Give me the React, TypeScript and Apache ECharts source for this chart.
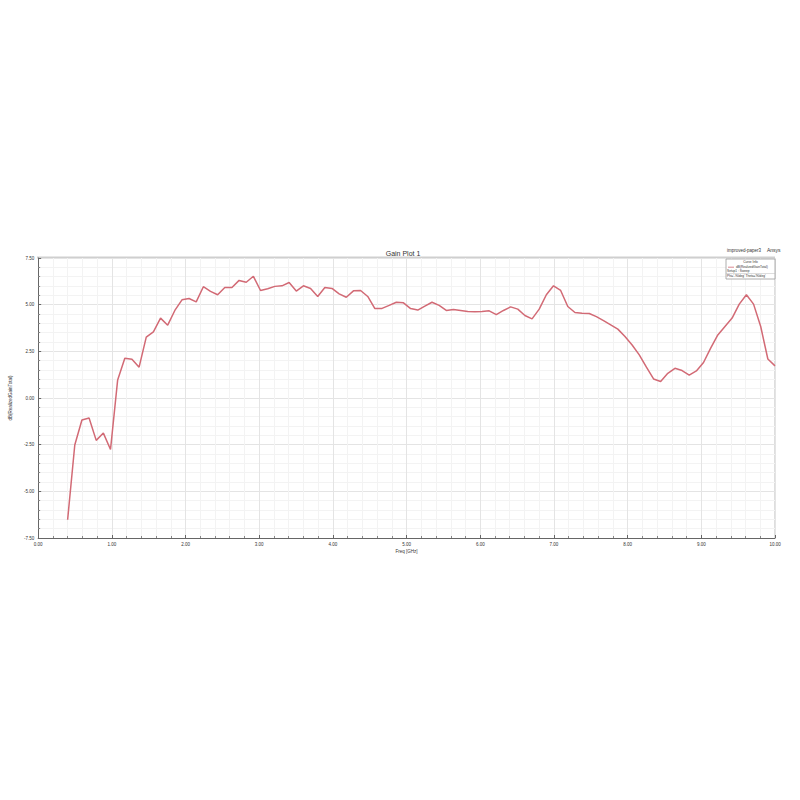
import React, { useEffect, useRef } from "react";
import * as echarts from "echarts";

const freqGHz = [
  0.4, 0.497, 0.594, 0.691, 0.788, 0.885, 0.982, 1.079, 1.176, 1.273,
  1.37, 1.467, 1.564, 1.661, 1.758, 1.855, 1.952, 2.048, 2.145, 2.242,
  2.339, 2.436, 2.533, 2.63, 2.727, 2.824, 2.921, 3.018, 3.115, 3.212,
  3.309, 3.406, 3.503, 3.6, 3.697, 3.794, 3.891, 3.988, 4.085, 4.182,
  4.279, 4.376, 4.473, 4.57, 4.667, 4.764, 4.861, 4.958, 5.055, 5.152,
  5.248, 5.345, 5.442, 5.539, 5.636, 5.733, 5.83, 5.927, 6.024, 6.121,
  6.218, 6.315, 6.412, 6.509, 6.606, 6.703, 6.8, 6.897, 6.994, 7.091,
  7.188, 7.285, 7.382, 7.479, 7.576, 7.673, 7.77, 7.867, 7.964, 8.061,
  8.158, 8.255, 8.352, 8.448, 8.545, 8.642, 8.739, 8.836, 8.933, 9.03,
  9.127, 9.224, 9.321, 9.418, 9.515, 9.612, 9.709, 9.806, 9.903, 10.0,
];

const gainDb = [
  -6.52, -2.52, -1.18, -1.07, -2.27, -1.88, -2.76, 0.97, 2.13, 2.08,
  1.65, 3.26, 3.54, 4.28, 3.9, 4.69, 5.26, 5.33, 5.15, 5.96,
  5.71, 5.53, 5.92, 5.92, 6.3, 6.2, 6.52, 5.76, 5.85, 5.98,
  6.01, 6.19, 5.73, 6.01, 5.87, 5.44, 5.92, 5.87, 5.58, 5.4,
  5.74, 5.76, 5.44, 4.79, 4.8, 4.96, 5.13, 5.1, 4.79, 4.71,
  4.92, 5.13, 4.96, 4.69, 4.74, 4.69, 4.63, 4.62, 4.63, 4.67,
  4.47, 4.69, 4.88, 4.76, 4.42, 4.24, 4.76, 5.53, 6.01, 5.76,
  4.9, 4.58, 4.54, 4.53, 4.36, 4.15, 3.92, 3.69, 3.29, 2.84,
  2.31, 1.65, 1.02, 0.88, 1.32, 1.59, 1.47, 1.23, 1.45, 1.9,
  2.67, 3.38, 3.83, 4.28, 5.03, 5.53, 5.03, 3.83, 2.09, 1.72,
];

const titleText = "Gain Plot 1";
const xAxisName = "Freq [GHz]";
const yAxisName = "dB(RealizedGainTotal)";
const projectText = "improved-paper3";
const brandText = "Ansys";
const legendLines = ["Curve Info", "dB(RealizedGainTotal)", "Setup1 : Sweep", "Phi='-90deg' Theta='90deg'"];

const FONT = "Liberation Sans, Arial, sans-serif";
const LINE_COLOR = "#d26a75";

export default function App() {
  const ref = useRef<HTMLDivElement>(null);
  useEffect(() => {
    if (!ref.current) return;
    const chart = echarts.init(ref.current, null, { renderer: "svg" });
    const gl = 37, gt = 258, gw = 738, gh = 280;
    const lx = 726, ly = 259, lw = 49, lh = 20;
    chart.setOption({
      animation: false,
      backgroundColor: "#ffffff",
      title: {
        text: titleText,
        left: 398,
        top: 245,
        textAlign: "center",
        textStyle: { fontSize: 7, fontWeight: "normal", color: "#333", fontFamily: FONT },
      },
      grid: { left: gl, top: gt, width: gw, height: gh, containLabel: false },
      xAxis: {
        type: "value",
        min: 0,
        max: 10,
        interval: 1,
        name: xAxisName,
        nameLocation: "middle",
        nameGap: 11,
        nameTextStyle: { fontSize: 4.5, color: "#333", fontFamily: FONT },
        axisLine: { show: true, onZero: false, lineStyle: { color: "#666", width: 1 } },
        axisTick: { show: true, inside: true, length: 3, lineStyle: { color: "#666" } },
        minorTick: { show: true, splitNumber: 5, length: 2, lineStyle: { color: "#888" } },
        axisLabel: {
          fontSize: 4.5,
          color: "#333",
          fontFamily: FONT,
          margin: 4,
          formatter: (v: number) => v.toFixed(2),
        },
        splitLine: { show: true, lineStyle: { color: "#e4e4e4", width: 1 } },
        minorSplitLine: { show: true, lineStyle: { color: "#f3f3f3", width: 1 } },
      },
      yAxis: {
        type: "value",
        min: -7.5,
        max: 7.5,
        interval: 2.5,
        name: yAxisName,
        nameLocation: "middle",
        nameGap: 14,
        nameRotate: 90,
        nameTextStyle: { fontSize: 4.5, color: "#333", fontFamily: FONT },
        axisLine: { show: true, onZero: false, lineStyle: { color: "#666", width: 1 } },
        axisTick: { show: true, inside: true, length: 3, lineStyle: { color: "#666" } },
        minorTick: { show: true, splitNumber: 5, length: 2, lineStyle: { color: "#888" } },
        axisLabel: {
          fontSize: 4.5,
          color: "#333",
          fontFamily: FONT,
          margin: 4,
          formatter: (v: number) => v.toFixed(2),
        },
        splitLine: { show: true, lineStyle: { color: "#e4e4e4", width: 1 } },
        minorSplitLine: { show: true, lineStyle: { color: "#f3f3f3", width: 1 } },
      },
      graphic: [
        { type: "rect", shape: { x: gl, y: gt - 1.5, width: gw, height: 2 }, style: { fill: "#cfcfcf" }, silent: true },
        { type: "line", shape: { x1: gl + gw, y1: gt, x2: gl + gw, y2: gt + gh }, style: { stroke: "#bdbdbd", lineWidth: 1 }, silent: true },
        { type: "text", left: 727, top: 248, style: { text: projectText, fontSize: 4.5, fill: "#333", fontFamily: FONT } },
        { type: "text", left: 767, top: 247.5, style: { text: brandText, fontSize: 5, fill: "#333", fontFamily: FONT } },
        { type: "rect", shape: { x: lx, y: ly, width: lw, height: lh }, style: { fill: "#ffffff", stroke: "#9a9a9a", lineWidth: 0.8 }, z: 10 },
        { type: "text", x: lx + lw / 2, y: ly + 1, style: { text: legendLines[0], fontSize: 3.2, fill: "#333", fontFamily: FONT, textAlign: "center" }, z: 11 },
        { type: "line", shape: { x1: lx + 2, y1: ly + 8.2, x2: lx + 8, y2: ly + 8.2 }, style: { stroke: LINE_COLOR, lineWidth: 0.8 }, z: 11 },
        { type: "text", x: lx + 10, y: ly + 6.4, style: { text: legendLines[1], fontSize: 3.2, fill: "#333", fontFamily: FONT }, z: 11 },
        { type: "text", x: lx + 1, y: ly + 10.6, style: { text: legendLines[2], fontSize: 3.2, fill: "#333", fontFamily: FONT }, z: 11 },
        { type: "text", x: lx + 1, y: ly + 15, style: { text: legendLines[3], fontSize: 3.2, fill: "#333", fontFamily: FONT }, z: 11 },
        { type: "line", shape: { x1: lx, y1: ly + 14.5, x2: lx + lw, y2: ly + 14.5 }, style: { stroke: "#bbbbbb", lineWidth: 0.5 }, z: 11 },
      ],
      series: [
        {
          type: "line",
          data: freqGHz.map((f, i) => [f, gainDb[i]]),
          showSymbol: false,
          symbol: "none",
          lineStyle: { color: LINE_COLOR, width: 1.5 },
          itemStyle: { color: LINE_COLOR },
        },
      ],
    });
    return () => chart.dispose();
  }, []);
  return (
    <div
      ref={ref}
      style={{ position: "fixed", left: 0, top: 0, width: 800, height: 800, background: "#fff" }}
    />
  );
}
